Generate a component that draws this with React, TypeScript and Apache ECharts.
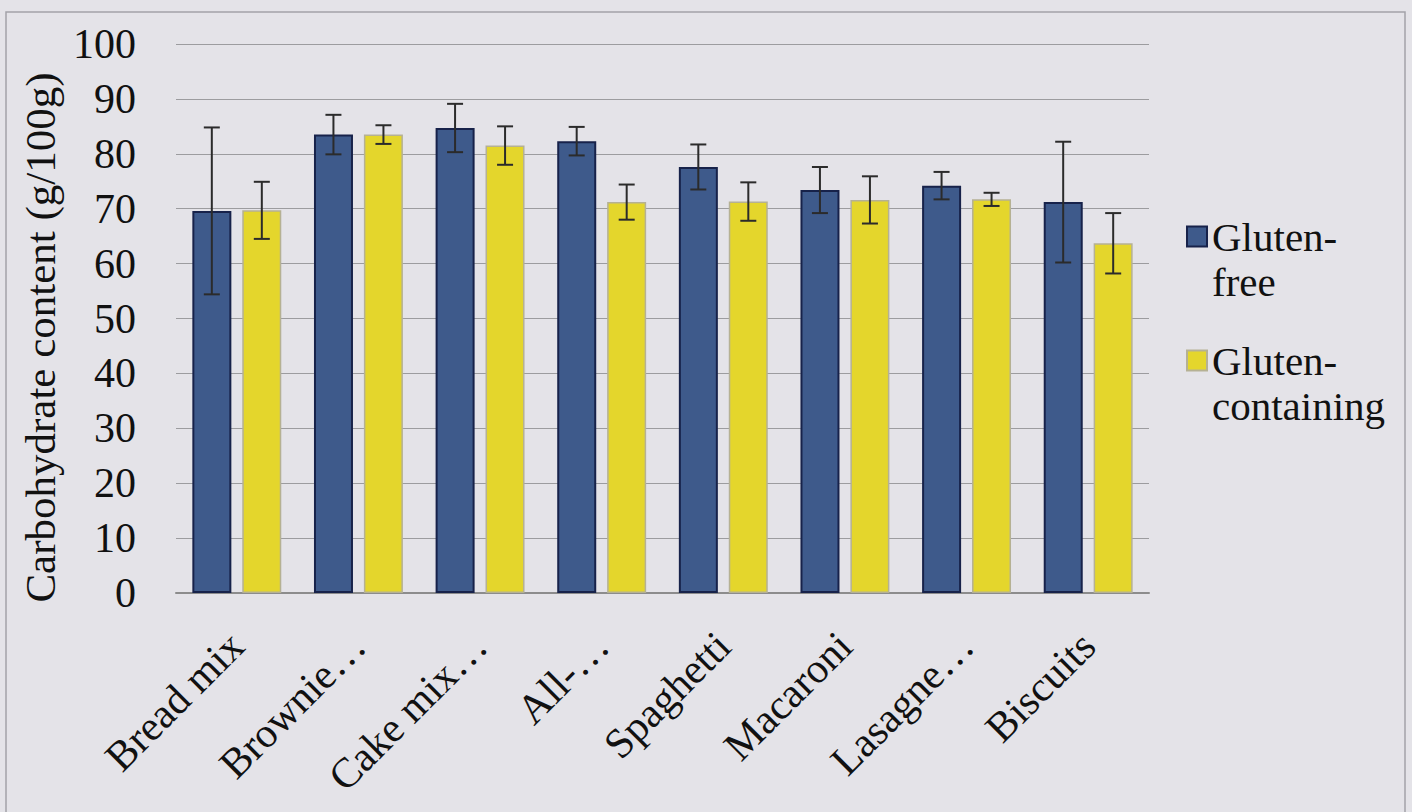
import React, { useEffect, useRef } from "react";
import * as echarts from "echarts";

// Carbohydrate content (g/100g) by product, mean ± SD
const categories = [
  "Bread mix",
  "Brownie…",
  "Cake mix…",
  "All-…",
  "Spaghetti",
  "Macaroni",
  "Lasagne…",
  "Biscuits",
];
const glutenFreeMean = [69.6, 83.5, 84.7, 82.3, 77.6, 73.4, 74.2, 71.2];
const glutenFreeSd = [15.2, 3.6, 4.4, 2.6, 4.1, 4.2, 2.5, 11.0];
const glutenContainingMean = [69.7, 83.5, 81.5, 71.2, 71.3, 71.6, 71.7, 63.7];
const glutenContainingSd = [5.2, 1.7, 3.5, 3.2, 3.5, 4.3, 1.2, 5.5];
const yTicks = { min: 0, max: 100, interval: 10 };

const seriesNames = ["Gluten-free", "Gluten-containing"];
// a leading blank line keeps the first text line level with the legend swatch
const legendLabels: Record<string, string> = {
  "Gluten-free": "\nGluten-\nfree",
  "Gluten-containing": "\nGluten-\ncontaining",
};

const FONT = "'Liberation Serif', 'Times New Roman', serif";
const BAR_W = 39;
const PAIR_OFFSET = 25;

function errorBars(name: string, means: number[], sds: number[], dx: number) {
  return {
    type: "custom",
    name,
    z: 5,
    silent: true,
    data: means.map((m, i) => [i, m, sds[i]]),
    encode: { x: 0, y: 1 },
    renderItem: (_params: any, api: any) => {
      const idx = api.value(0);
      const m = api.value(1);
      const sd = api.value(2);
      const top = api.coord([idx, m + sd]);
      const bot = api.coord([idx, m - sd]);
      const x = top[0] + dx;
      const cap = 8;
      const style = { stroke: "#2b2b2b", lineWidth: 2 };
      return {
        type: "group",
        children: [
          { type: "line", shape: { x1: x, y1: top[1], x2: x, y2: bot[1] }, style },
          { type: "line", shape: { x1: x - cap, y1: top[1], x2: x + cap, y2: top[1] }, style },
          { type: "line", shape: { x1: x - cap, y1: bot[1], x2: x + cap, y2: bot[1] }, style },
        ],
      };
    },
  };
}

export default function App() {
  const ref = useRef<HTMLDivElement>(null);

  useEffect(() => {
    if (!ref.current) return;
    const chart = echarts.init(ref.current, undefined, { renderer: "svg" });
    chart.setOption({
      animation: false,
      backgroundColor: "#e4e3e8",
      textStyle: { fontFamily: FONT },
      grid: { left: 176, right: 263, top: 44, bottom: 219 },
      graphic: [
        {
          type: "rect",
          shape: { x: 6, y: 12, width: 1399, height: 820 },
          style: { fill: "none", stroke: "#a2a2a8", lineWidth: 1.5 },
          silent: true,
        },
      ],
      legend: {
        orient: "vertical",
        left: 1181,
        top: 164,
        icon: "rect",
        itemWidth: 20,
        itemHeight: 20,
        itemGap: -11,
        data: seriesNames,
        formatter: (n: string) => legendLabels[n] ?? n,
        textStyle: {
          fontFamily: FONT,
          fontSize: 41,
          color: "#111",
          lineHeight: 45,
        },
      },
      xAxis: {
        type: "category",
        data: categories,
        axisLine: { show: true, lineStyle: { color: "#8c8c8c", width: 2 } },
        axisTick: { show: false },
        axisLabel: {
          rotate: 45,
          interval: 0,
          margin: 46,
          fontFamily: FONT,
          fontSize: 42,
          color: "#111",
        },
      },
      yAxis: {
        type: "value",
        min: yTicks.min,
        max: yTicks.max,
        interval: yTicks.interval,
        name: "Carbohydrate content (g/100g)",
        nameLocation: "middle",
        nameGap: 88,
        nameTextStyle: {
          fontFamily: FONT,
          fontSize: 43,
          color: "#111",
          padding: [0, 38, 0, 0],
        },
        axisLine: { show: false },
        axisTick: { show: false },
        axisLabel: { margin: 40, fontFamily: FONT, fontSize: 42, color: "#111" },
        splitLine: { lineStyle: { color: "#9c9c9f", width: 1.2 } },
      },
      series: [
        {
          type: "bar",
          name: seriesNames[0],
          data: glutenFreeMean,
          barWidth: BAR_W,
          barGap: "28%",
          itemStyle: { color: "#3e5a8b", borderColor: "#17224a", borderWidth: 2 },
        },
        {
          type: "bar",
          name: seriesNames[1],
          data: glutenContainingMean,
          barWidth: BAR_W,
          barGap: "28%",
          itemStyle: { color: "#e4d62c", borderColor: "#b5b194", borderWidth: 1.5 },
        },
        errorBars("gf-sd", glutenFreeMean, glutenFreeSd, -PAIR_OFFSET),
        errorBars("gc-sd", glutenContainingMean, glutenContainingSd, PAIR_OFFSET),
      ],
    });
    return () => chart.dispose();
  }, []);

  return (
    <div
      ref={ref}
      style={{ position: "fixed", left: 0, top: 0, width: 1412, height: 812 }}
    />
  );
}
